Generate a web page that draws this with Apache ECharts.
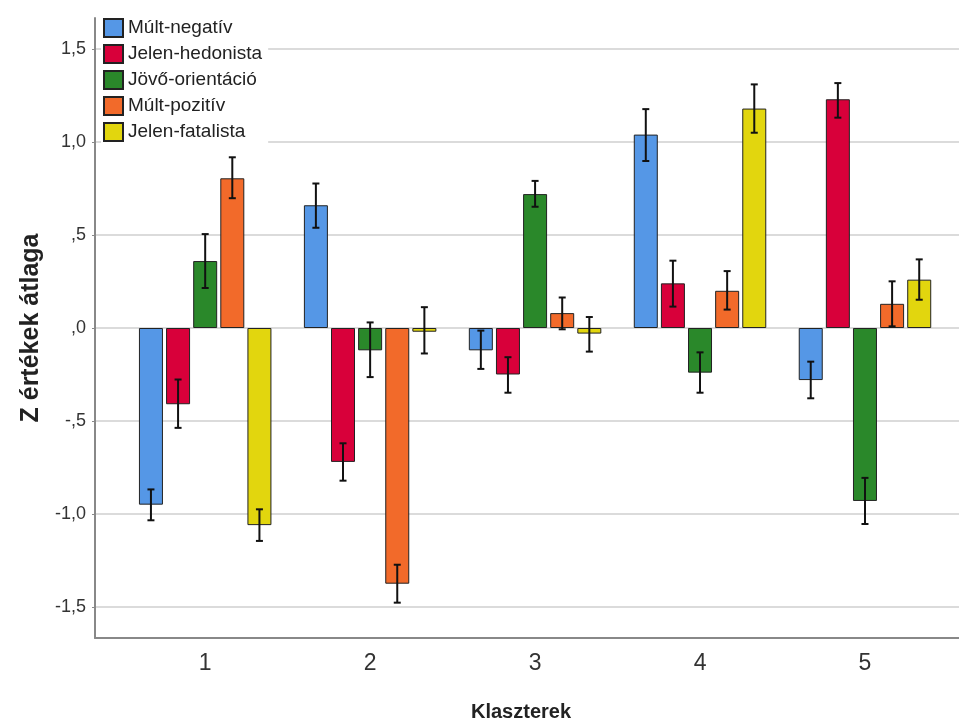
<!DOCTYPE html>
<html>
<head>
<meta charset="utf-8">
<script src="https://cdn.jsdelivr.net/npm/echarts@6/dist/echarts.min.js"></script>
<style>
	html, body { margin: 0; padding: 0; background: #fff; }
	#chart { width: 959px; height: 722px; }
</style>
</head>
<body>
<div id="chart"></div>
<script>
	// clusters on the x axis
	const clusters = [1, 2, 3, 4, 5]
	const yTicks = [-1.5, -1, -0.5, 0, 0.5, 1, 1.5]

	const seriesNames = ['Múlt-negatív', 'Jelen-hedonista', 'Jövő-orientáció', 'Múlt-pozitív', 'Jelen-fatalista']
	const colors = ['#5597e6', '#d8003a', '#2a882a', '#f26a2a', '#e2d60e']

	// means
	const multNegativ = [-0.95, 0.66, -0.12, 1.04, -0.28]
	const jelenHedonista = [-0.41, -0.72, -0.25, 0.24, 1.23]
	const jovoOrientacio = [0.36, -0.12, 0.72, -0.24, -0.93]
	const multPozitiv = [0.805, -1.375, 0.08, 0.20, 0.13]
	const jelenFatalista = [-1.06, -0.02, -0.03, 1.18, 0.26]

	// error bar ends (low / high)
	const multNegativLo = [-1.034, 0.539, -0.220, 0.898, -0.378]
	const multNegativHi = [-0.868, 0.777, -0.014, 1.177, -0.181]
	const jelenHedonistaLo = [-0.537, -0.821, -0.348, 0.115, 1.131]
	const jelenHedonistaHi = [-0.277, -0.620, -0.157, 0.362, 1.317]
	const jovoOrientacioLo = [0.215, -0.264, 0.652, -0.348, -1.054]
	const jovoOrientacioHi = [0.505, 0.030, 0.791, -0.131, -0.806]
	const multPozitivLo = [0.698, -1.477, -0.007, 0.099, 0.009]
	const multPozitivHi = [0.918, -1.273, 0.164, 0.306, 0.251]
	const jelenFatalistaLo = [-1.145, -0.137, -0.127, 1.050, 0.152]
	const jelenFatalistaHi = [-0.975, 0.112, 0.059, 1.310, 0.369]

	const means = [multNegativ, jelenHedonista, jovoOrientacio, multPozitiv, jelenFatalista]
	const lows = [multNegativLo, jelenHedonistaLo, jovoOrientacioLo, multPozitivLo, jelenFatalistaLo]
	const highs = [multNegativHi, jelenHedonistaHi, jovoOrientacioHi, multPozitivHi, jelenFatalistaHi]

	const barWidth = 24
	const barGap = 0.13
	const pitch = barWidth * (1 + barGap)
	const font = '"Liberation Sans", Arial, sans-serif'

	function yLabel(v) {
		let s = Math.abs(v).toFixed(1).replace('.', ',')
		if (Math.abs(v) < 1) s = s.replace(/^0/, '')
		return (v < 0 ? '-' : '') + s
	}

	let series = []

	means.forEach((arr, i) => {
		series.push({
			name: seriesNames[i],
			type: 'bar',
			barWidth: barWidth,
			barGap: (barGap * 100) + '%',
			itemStyle: {
				color: colors[i],
				borderColor: '#222',
				borderWidth: 1
			},
			data: clusters.map((c, j) => [c, arr[j]])
		})
	})

	means.forEach((arr, i) => {
		series.push({
			name: 'err' + i,
			type: 'custom',
			z: 5,
			renderItem: (params, api) => {
				const x = api.value(0)
				const lo = api.coord([x, api.value(1)])
				const hi = api.coord([x, api.value(2)])
				const cx = lo[0] + (i - 2) * pitch
				const style = { stroke: '#111', lineWidth: 2 }
				return {
					type: 'group',
					children: [{
						type: 'line',
						shape: { x1: cx, y1: lo[1], x2: cx, y2: hi[1] },
						style: style
					}, {
						type: 'line',
						shape: { x1: cx - 3.5, y1: lo[1], x2: cx + 3.5, y2: lo[1] },
						style: style
					}, {
						type: 'line',
						shape: { x1: cx - 3.5, y1: hi[1], x2: cx + 3.5, y2: hi[1] },
						style: style
					}]
				}
			},
			data: clusters.map((c, j) => [c, lows[i][j], highs[i][j]])
		})
	})

	let option = {
		animation: false,
		backgroundColor: '#fff',
		textStyle: { fontFamily: font },
		grid: {
			left: 95,
			right: 0,
			top: 18,
			bottom: 84,
			outerBoundsMode: 'none',
			containLabel: false
		},
		legend: {
			data: seriesNames,
			orient: 'vertical',
			left: 101,
			top: 16,
			icon: 'rect',
			itemWidth: 19,
			itemHeight: 18,
			itemGap: 6,
			padding: [2, 6, 2, 2],
			backgroundColor: '#fff',
			textStyle: {
				fontSize: 19,
				color: '#222'
			}
		},
		xAxis: {
			type: 'value',
			min: 0.332,
			max: 5.57,
			name: 'Klaszterek',
			nameLocation: 'middle',
			nameGap: 64,
			nameTextStyle: {
				fontSize: 20,
				fontWeight: 'bold',
				color: '#222',
				padding: [0, 12, 0, 0]
			},
			axisLine: {
				onZero: false,
				lineStyle: { color: '#888', width: 2 }
			},
			axisTick: { show: false },
			splitLine: { show: false },
			axisLabel: {
				customValues: clusters,
				formatter: v => String(v),
				fontSize: 23,
				color: '#333',
				margin: 14
			}
		},
		yAxis: {
			type: 'value',
			min: -1.667,
			max: 1.667,
			name: 'Z értékek átlaga',
			nameLocation: 'middle',
			nameGap: 45,
			nameTextStyle: {
				fontSize: 25,
				fontWeight: 'bold',
				color: '#222'
			},
			axisLine: {
				show: true,
				lineStyle: { color: '#888', width: 2 }
			},
			axisTick: {
				show: true,
				customValues: yTicks,
				length: 3,
				lineStyle: { color: '#888' }
			},
			splitLine: {
				show: true,
				lineStyle: { color: '#cfcfcf', width: 1.5 }
			},
			axisLabel: {
				customValues: yTicks,
				formatter: yLabel,
				fontSize: 18,
				color: '#333',
				margin: 9
			}
		},
		series: series
	}

	const dom = echarts.init(document.getElementById('chart'))
	dom.setOption(option, true)
</script>
</body>
</html>
